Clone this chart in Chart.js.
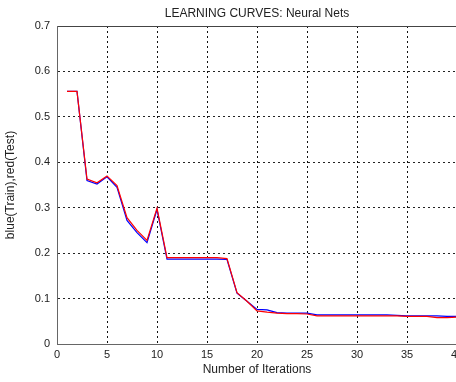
<!DOCTYPE html>
<html>
<head>
<meta charset="utf-8">
<script src="https://cdn.jsdelivr.net/npm/chart.js@4"></script>
<style>
  html, body { margin: 0; padding: 0; background: #fff; overflow: hidden; }
  #wrap { width: 456px; height: 382px; overflow: hidden; }
</style>
</head>
<body>
<div id="wrap"><canvas id="curves" width="464" height="382"></canvas></div>
<script>
// iterations and error values
const iterations = [1, 2, 3, 4, 5, 6, 7, 8, 9, 10,
    11, 12, 13, 14, 15, 16, 17, 18, 19, 20,
    21, 22, 23, 24, 25, 26, 27, 28, 29, 30,
    31, 32, 33, 34, 35, 36, 37, 38, 39, 40];

const trainErr = [0.556, 0.556, 0.360, 0.352, 0.368, 0.345, 0.272, 0.245, 0.223, 0.296,
    0.187, 0.187, 0.187, 0.187, 0.187, 0.187, 0.186, 0.112, 0.094, 0.076,
    0.075, 0.069, 0.068, 0.068, 0.068, 0.064, 0.064, 0.064, 0.064, 0.064,
    0.064, 0.064, 0.064, 0.063, 0.062, 0.062, 0.062, 0.062, 0.061, 0.061];

const testErr = [0.556, 0.556, 0.363, 0.355, 0.370, 0.349, 0.278, 0.250, 0.228, 0.299,
    0.190, 0.190, 0.190, 0.190, 0.190, 0.190, 0.188, 0.113, 0.094, 0.073,
    0.070, 0.068, 0.067, 0.067, 0.066, 0.062, 0.062, 0.062, 0.062, 0.062,
    0.062, 0.062, 0.062, 0.062, 0.061, 0.061, 0.061, 0.058, 0.058, 0.059];

const xTickLabels = ["0", "5", "10", "15", "20", "25", "30", "35", "40"];
const yTickLabels = ["0", "0.1", "0.2", "0.3", "0.4", "0.5", "0.6", "0.7"];

const toPoints = (ys) => ys.map((y, i) => ({ x: iterations[i], y: y }));

const textColor = "#222";
const tickFont = { family: "Liberation Sans, Arial, sans-serif", size: 11 };
const titleFont = { family: "Liberation Sans, Arial, sans-serif", size: 12 };

function createChart() {
    const ctx = document.getElementById("curves").getContext("2d");

    new Chart(ctx, {
        type: "line",
        data: {
            datasets: [
                {
                    label: "Train",
                    data: toPoints(trainErr),
                    borderColor: "#0000ff",
                    borderWidth: 1.2,
                    pointRadius: 0,
                    tension: 0,
                    fill: false,
                    order: 1, // drawn first, red goes on top
                },
                {
                    label: "Test",
                    data: toPoints(testErr),
                    borderColor: "#ff0000",
                    borderWidth: 1.2,
                    pointRadius: 0,
                    tension: 0,
                    fill: false,
                    order: 0,
                },
            ],
        },
        options: {
            responsive: false,
            animation: false,
            layout: { padding: 0 },
            plugins: {
                legend: { display: false },
                tooltip: { enabled: false },
            },
            scales: {
                x: {
                    type: "linear",
                    position: "bottom",
                    min: 0,
                    max: 40,
                    afterFit: (s) => { s.height = 38; s.paddingLeft = 0; s.paddingRight = 7; },
                    ticks: {
                        stepSize: 5,
                        padding: 4,
                        color: textColor,
                        font: tickFont,
                        maxRotation: 0,
                        callback: (v) => xTickLabels[v / 5],
                    },
                    grid: { color: "#111", lineWidth: 1, drawTicks: false },
                    border: { display: true, color: "#666", width: 1, dash: [2, 3] },
                    title: {
                        display: true,
                        text: "Number of Iterations",
                        color: textColor,
                        font: titleFont,
                        padding: { top: 5, bottom: 5 },
                    },
                },
                xTop: {
                    type: "linear",
                    position: "top",
                    min: 0,
                    max: 40,
                    afterFit: (s) => { s.height = 26; s.paddingLeft = 0; s.paddingRight = 0; },
                    ticks: { display: false },
                    grid: { display: false, drawTicks: false },
                    border: { display: true, color: "#444", width: 1 },
                    title: {
                        display: true,
                        text: "LEARNING CURVES: Neural Nets",
                        color: textColor,
                        font: titleFont,
                        padding: { top: 6, bottom: 4 },
                    },
                },
                y: {
                    type: "linear",
                    min: 0,
                    max: 0.7,
                    afterFit: (s) => { s.width = 57; },
                    ticks: {
                        stepSize: 0.1,
                        padding: 7,
                        color: textColor,
                        font: tickFont,
                        callback: (v) => yTickLabels[Math.round(v * 10)],
                    },
                    grid: { color: "#222", lineWidth: 1, drawTicks: false },
                    border: { display: true, color: "#666", width: 1, dash: [2, 3] },
                    title: {
                        display: true,
                        text: "blue(Train),red(Test)",
                        color: textColor,
                        font: titleFont,
                        padding: { top: 3, bottom: 3 },
                    },
                },
            },
        },
    });
}

window.onload = createChart;
</script>
</body>
</html>
